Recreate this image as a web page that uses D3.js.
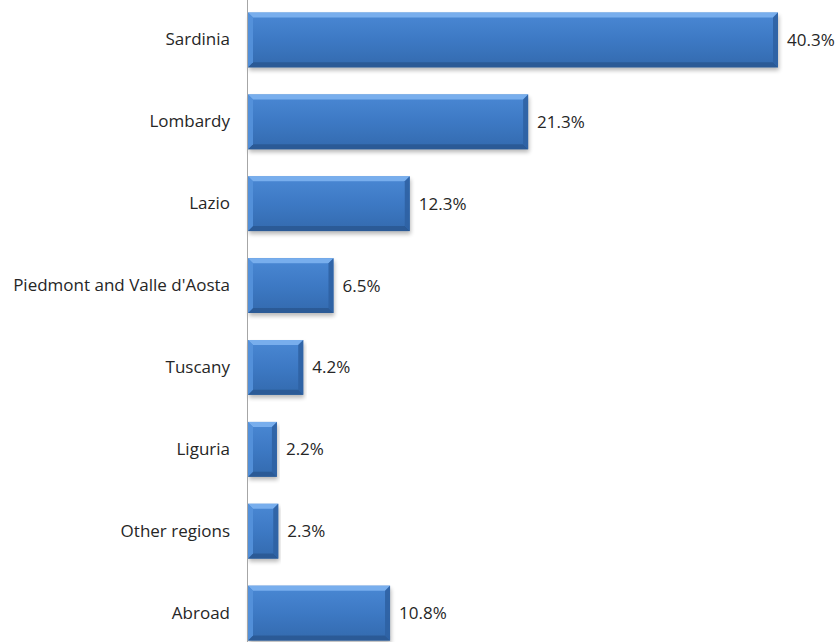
<!DOCTYPE html>
<html>
<head>
<meta charset="utf-8">
<script src="https://cdn.jsdelivr.net/npm/d3@7"></script>
<style>
  html, body { margin: 0; padding: 0; background: #ffffff; }
  svg { display: block; }
  text { font-family: "Open Sans", "Noto Sans", sans-serif; }
</style>
</head>
<body>
<div id="chart"></div>
<script>
// Share of total by origin region
const regions = ["Sardinia", "Lombardy", "Lazio", "Piedmont and Valle d'Aosta",
                 "Tuscany", "Liguria", "Other regions", "Abroad"];
const shares = [40.3, 21.3, 12.3, 6.5, 4.2, 2.2, 2.3, 10.8];

const width = 839, height = 642;
const axisX = 247;
const fontSize = 17;

const svg = d3.select("#chart").append("svg")
  .attr("width", width).attr("height", height);

const defs = svg.append("defs");

const face = defs.append("linearGradient")
  .attr("id", "barFace").attr("x1", 0).attr("y1", 0).attr("x2", 0).attr("y2", 1);
face.append("stop").attr("offset", "0%").attr("stop-color", "#4a88d4");
face.append("stop").attr("offset", "50%").attr("stop-color", "#3d79c4");
face.append("stop").attr("offset", "100%").attr("stop-color", "#336aae");

const shadowFilter = defs.append("filter").attr("id", "barShadow")
  .attr("x", "-5%").attr("y", "-20%").attr("width", "110%").attr("height", "160%");
shadowFilter.append("feGaussianBlur").attr("stdDeviation", 2);

const x = d3.scaleLinear().domain([0, 40.3]).range([axisX + 1, 778]);
const y = d3.scaleBand().domain(regions).range([-1, 654]).paddingInner(0.33).paddingOuter(0.165);

const data = regions.map((r, i) => ({ region: r, value: shares[i] }));

const bars = svg.append("g").selectAll("g").data(data).join("g")
  .attr("transform", d => `translate(0,${y(d.region)})`);

const bh = y.bandwidth();
const bev = 5;

// soft shadow below each bar
bars.append("rect")
  .attr("x", x(0) + 1)
  .attr("y", 3)
  .attr("width", d => x(d.value) - x(0))
  .attr("height", bh)
  .attr("fill", "#000")
  .attr("opacity", 0.28)
  .attr("filter", "url(#barShadow)");

// bar face
bars.append("rect")
  .attr("x", x(0))
  .attr("y", 0)
  .attr("width", d => x(d.value) - x(0))
  .attr("height", bh)
  .attr("fill", "url(#barFace)");

// bevelled edges
const bevel = (d, side) => {
  const x0 = x(0), x1 = x(d.value);
  const w = x1 - x0;
  const b = Math.min(bev, w / 2);
  if (side === "top") return `M${x0},0 L${x1},0 L${x1 - b},${b} L${x0 + b},${b}Z`;
  if (side === "bottom") return `M${x0},${bh} L${x1},${bh} L${x1 - b},${bh - b} L${x0 + b},${bh - b}Z`;
  if (side === "left") return `M${x0},0 L${x0 + b},${b} L${x0 + b},${bh - b} L${x0},${bh}Z`;
  return `M${x1},0 L${x1 - b},${b} L${x1 - b},${bh - b} L${x1},${bh}Z`;
};
const bevelFill = { top: "#7db3ef", bottom: "#2a5994", left: "#5592dc", right: "#2f62a3" };
["top", "bottom", "left", "right"].forEach(side => {
  bars.append("path")
    .attr("d", d => bevel(d, side))
    .attr("fill", bevelFill[side])
    .attr("opacity", 0.9);
});

// value labels
bars.append("text")
  .attr("x", d => x(d.value) + 9)
  .attr("y", bh / 2)
  .attr("dy", "0.35em")
  .attr("font-size", fontSize)
  .attr("fill", "#262626")
  .text(d => d3.format(".1f")(d.value) + "%");

// category axis
const axis = d3.axisLeft(y).tickSize(0).tickPadding(17);
const gAxis = svg.append("g").attr("transform", `translate(${axisX},0)`).call(axis);
gAxis.select(".domain").remove();
gAxis.selectAll("text")
  .attr("font-size", fontSize)
  .attr("fill", "#262626")
  .style("font-family", "'Open Sans', 'Noto Sans', sans-serif");

svg.append("line")
  .attr("x1", axisX + 0.5).attr("x2", axisX + 0.5)
  .attr("y1", 0).attr("y2", height)
  .attr("stroke", "#a6a6a6").attr("stroke-width", 1);
</script>
</body>
</html>
